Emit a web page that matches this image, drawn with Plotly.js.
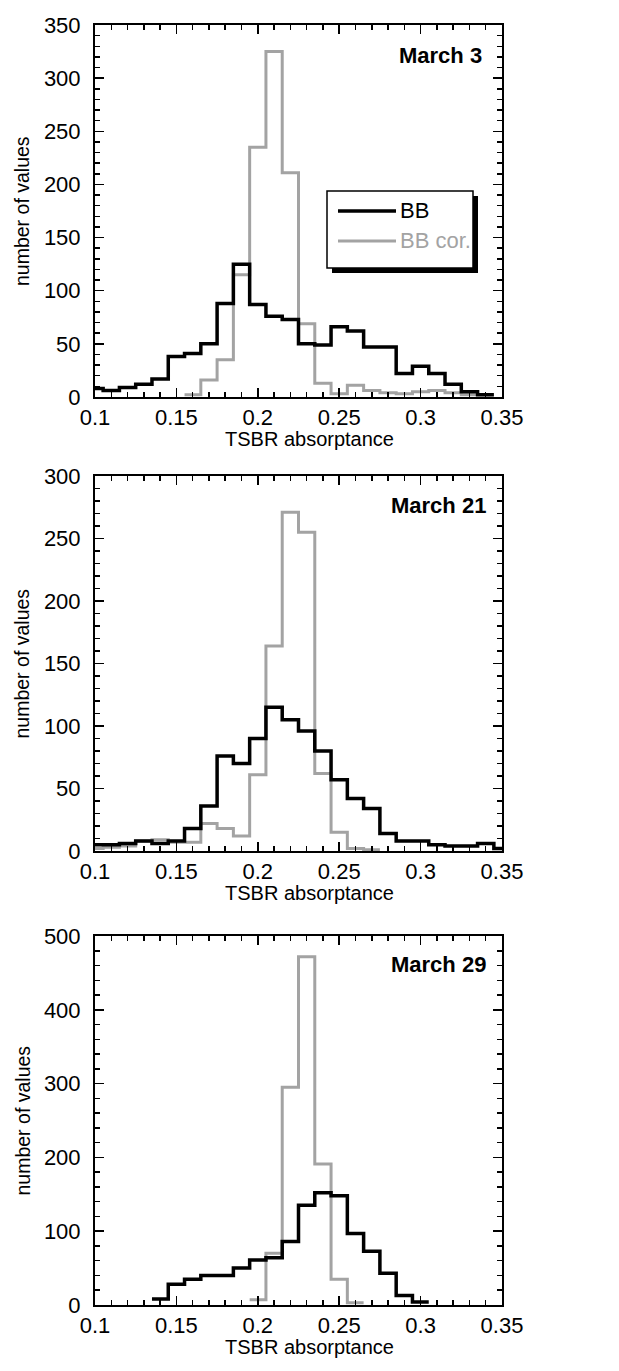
<!DOCTYPE html>
<html>
<head>
<meta charset="utf-8">
<script src="https://cdn.plot.ly/plotly-3.0.1.min.js"></script>
<style>html,body{margin:0;padding:0;background:#fff;}#chart{width:619px;height:1371px;}</style>
</head>
<body>
<div id="chart"></div>
<script>
// ---- data (bin centers, bin width 0.01) ----
var binWidth = 0.01;
var panelTitles = ["March 3", "March 21", "March 29"];
var seriesNames = ["BB", "BB cor."];

var m3_bb_start = 0.10;
var m3_bb = [8, 6, 9, 12, 17, 38, 41, 50, 88, 125, 87, 76, 73, 50, 49, 66, 62, 47, 47, 22, 29, 22, 12, 5, 2];
var m3_cor_start = 0.16;
var m3_cor = [2, 16, 35, 115, 235, 325, 211, 69, 13, 3, 11, 6, 4, 3, 5, 6, 4, 2, 2];

var m21_bb_start = 0.10;
var m21_bb = [5, 5, 6, 8, 6, 8, 18, 36, 76, 70, 90, 115, 105, 96, 80, 57, 42, 34, 14, 8, 8, 5, 4, 4, 6, 2];
var m21_cor_start = 0.10;
var m21_cor = [2, 3, 4, 8, 9, 7, 7, 22, 18, 12, 61, 164, 271, 255, 62, 15, 2, 1];

var m29_bb_start = 0.14;
var m29_bb = [8, 28, 35, 40, 40, 50, 61, 64, 86, 135, 152, 148, 97, 73, 43, 13, 4];
var m29_cor_start = 0.20;
var m29_cor = [7, 70, 295, 472, 191, 35, 3];

var xTickVals = [0.1, 0.15, 0.2, 0.25, 0.3, 0.35];
var xTickText = ["0.1", "0.15", "0.2", "0.25", "0.3", "0.35"];
var yRanges = [[0, 350], [0, 300], [0, 500]];
var yDticks = [50, 50, 100];
var yMinor = [10, 10, 20];

// ---- helpers ----
function steps(start, counts) {
  var xs = [], ys = [];
  for (var i = 0; i < counts.length; i++) {
    var c = Math.round((start + i * binWidth) * 1000) / 1000;
    xs.push(c - binWidth / 2); ys.push(counts[i]);
  }
  var last = Math.round((start + (counts.length - 1) * binWidth) * 1000) / 1000;
  xs.push(last + binWidth / 2); ys.push(counts[counts.length - 1]);
  return {x: xs, y: ys};
}
var W = 619, H = 1371;
function px(x) { return x / W; }
function py(y) { return 1 - y / H; }

var FONT = "Liberation Sans, Arial, Helvetica, sans-serif";
var GRAY = "#a3a3a3";

var panels = [
  {bb: steps(m3_bb_start, m3_bb), cor: steps(m3_cor_start, m3_cor), top: 25, bot: 397},
  {bb: steps(m21_bb_start, m21_bb), cor: steps(m21_cor_start, m21_cor), top: 476, bot: 851},
  {bb: steps(m29_bb_start, m29_bb), cor: steps(m29_cor_start, m29_cor), top: 936, bot: 1305}
];
var xLeft = 95, xRight = 502;

var traces = [];
var layout = {
  width: W, height: H,
  margin: {l: 0, r: 0, t: 0, b: 0},
  paper_bgcolor: "#ffffff", plot_bgcolor: "#ffffff",
  showlegend: false,
  font: {family: FONT, size: 22, color: "#000"},
  annotations: [], shapes: []
};

panels.forEach(function(p, i) {
  var sfx = i === 0 ? "" : String(i + 1);
  traces.push({x: p.cor.x, y: p.cor.y, type: "scatter", mode: "lines", name: seriesNames[1],
    line: {shape: "hv", color: GRAY, width: 3}, xaxis: "x" + sfx, yaxis: "y" + sfx, cliponaxis: true});
  traces.push({x: p.bb.x, y: p.bb.y, type: "scatter", mode: "lines", name: seriesNames[0],
    line: {shape: "hv", color: "#000", width: 3.5}, xaxis: "x" + sfx, yaxis: "y" + sfx, cliponaxis: true});

  layout["xaxis" + sfx] = {
    domain: [px(xLeft), px(xRight)], anchor: "y" + sfx,
    range: [0.1, 0.35], tickvals: xTickVals, ticktext: xTickText,
    ticks: "inside", ticklen: 9, tickwidth: 1.5, tickcolor: "#000",
    minor: {ticks: "inside", ticklen: 5, tickwidth: 1.5, tickcolor: "#000", dtick: 0.01, tick0: 0.1, showgrid: false},
    showline: true, linecolor: "#000", linewidth: 2, mirror: "ticks",
    showgrid: false, zeroline: false, fixedrange: true,
    tickfont: {family: FONT, size: 22, color: "#000"}
  };
  layout["yaxis" + sfx] = {
    domain: [py(p.bot), py(p.top)], anchor: "x" + sfx,
    range: yRanges[i], dtick: yDticks[i], tick0: 0,
    ticks: "inside", ticklen: 9, tickwidth: 1.5, tickcolor: "#000",
    minor: {ticks: "inside", ticklen: 5, tickwidth: 1.5, tickcolor: "#000", dtick: yMinor[i], showgrid: false},
    showline: true, linecolor: "#000", linewidth: 2, mirror: "ticks",
    showgrid: false, zeroline: false, fixedrange: true,
    ticklabelstandoff: 8,
    tickfont: {family: FONT, size: 22, color: "#000"}
  };

  // panel title
  layout.annotations.push({text: "<b>" + panelTitles[i] + "</b>", xref: "paper", yref: "paper",
    x: px(i === 0 ? 484 : 488), y: py(p.top + (i === 0 ? 30 : 29)), xanchor: "right", yanchor: "middle",
    showarrow: false, font: {family: FONT, size: 22, color: "#000"}});
  // axis titles
  layout.annotations.push({text: "TSBR absorptance", xref: "paper", yref: "paper",
    x: px(309), y: py(p.bot + 42), xanchor: "center", yanchor: "middle",
    showarrow: false, font: {family: FONT, size: 20, color: "#000"}});
  layout.annotations.push({text: "number of values", xref: "paper", yref: "paper",
    x: px(22), y: py((p.top + p.bot) / 2), xanchor: "center", yanchor: "middle", textangle: -90,
    showarrow: false, font: {family: FONT, size: 19.5, color: "#000"}});
});

// legend box (panel 1) with drop shadow
var lg = {x0: 327, x1: 473, y0: 191, y1: 268, sh: 5};
layout.shapes.push({type: "rect", xref: "paper", yref: "paper",
  x0: px(lg.x0 + lg.sh), x1: px(lg.x1 + lg.sh), y0: py(lg.y1 + lg.sh), y1: py(lg.y0 + lg.sh),
  fillcolor: "#000", line: {width: 0}});
layout.shapes.push({type: "rect", xref: "paper", yref: "paper",
  x0: px(lg.x0), x1: px(lg.x1), y0: py(lg.y1), y1: py(lg.y0),
  fillcolor: "#fff", line: {color: "#000", width: 1.5}});
layout.shapes.push({type: "line", xref: "paper", yref: "paper",
  x0: px(338), x1: px(396), y0: py(211), y1: py(211), line: {color: "#000", width: 3.5}});
layout.shapes.push({type: "line", xref: "paper", yref: "paper",
  x0: px(338), x1: px(396), y0: py(241), y1: py(241), line: {color: GRAY, width: 3}});
layout.annotations.push({text: seriesNames[0], xref: "paper", yref: "paper", x: px(398), y: py(211),
  xanchor: "left", yanchor: "middle", showarrow: false, font: {family: FONT, size: 22, color: "#000"}});
layout.annotations.push({text: seriesNames[1], xref: "paper", yref: "paper", x: px(398), y: py(241),
  xanchor: "left", yanchor: "middle", showarrow: false, font: {family: FONT, size: 22, color: GRAY}});

Plotly.newPlot("chart", traces, layout, {staticPlot: true, displayModeBar: false});
</script>
</body>
</html>
